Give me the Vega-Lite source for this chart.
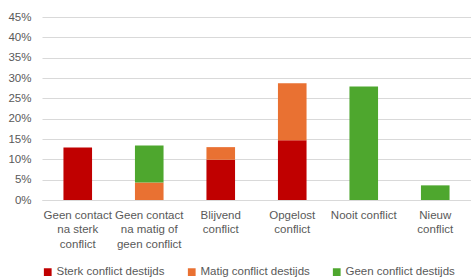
{
  "$schema": "https://vega.github.io/schema/vega-lite/v6.json",
  "width": 429,
  "height": 183,
  "autosize": {"type": "none"},
  "padding": {"left": 42, "top": 17, "right": 0, "bottom": 77},
  "background": "white",
  "config": {
    "view": {"stroke": null},
    "font": "Liberation Sans",
    "axis": {"labelColor": "#595959", "labelFontSize": 11.5, "labelFont": "Liberation Sans"},
    "legend": {"labelColor": "#595959", "labelFontSize": 11.5, "labelFont": "Liberation Sans"}
  },
  "data": {
    "values": [
      {"cat": "Geen contact|na sterk|conflict", "grp": "Sterk conflict destijds", "ord": 1, "v": 0.129},
      {"cat": "Geen contact|na matig of|geen conflict", "grp": "Matig conflict destijds", "ord": 2, "v": 0.043},
      {"cat": "Geen contact|na matig of|geen conflict", "grp": "Geen conflict destijds", "ord": 3, "v": 0.091},
      {"cat": "Blijvend|conflict", "grp": "Sterk conflict destijds", "ord": 1, "v": 0.099},
      {"cat": "Blijvend|conflict", "grp": "Matig conflict destijds", "ord": 2, "v": 0.031},
      {"cat": "Opgelost|conflict", "grp": "Sterk conflict destijds", "ord": 1, "v": 0.147},
      {"cat": "Opgelost|conflict", "grp": "Matig conflict destijds", "ord": 2, "v": 0.140},
      {"cat": "Nooit conflict", "grp": "Geen conflict destijds", "ord": 3, "v": 0.279},
      {"cat": "Nieuw|conflict", "grp": "Geen conflict destijds", "ord": 3, "v": 0.036}
    ]
  },
  "mark": {"type": "bar"},
  "encoding": {
    "x": {
      "field": "cat",
      "type": "nominal",
      "sort": ["Geen contact|na sterk|conflict", "Geen contact|na matig of|geen conflict", "Blijvend|conflict", "Opgelost|conflict", "Nooit conflict", "Nieuw|conflict"],
      "scale": {"paddingInner": 0.6, "paddingOuter": 0.3},
      "axis": {
        "title": null,
        "labelAngle": 0,
        "labelExpr": "split(datum.label, '|')",
        "labelLineHeight": 14.5,
        "labelPadding": 9,
        "ticks": false,
        "domainColor": "#d9d9d9",
        "labelLimit": 0,
        "labelOverlap": false
      }
    },
    "y": {
      "field": "v",
      "type": "quantitative",
      "stack": "zero",
      "scale": {"domain": [0, 0.45], "nice": false},
      "axis": {
        "title": null,
        "format": ".0%",
        "values": [0, 0.05, 0.1, 0.15, 0.2, 0.25, 0.3, 0.35, 0.4, 0.45],
        "grid": true,
        "gridColor": "#d9d9d9",
        "domain": false,
        "ticks": false,
        "labelPadding": 11,
        "labelOverlap": false,
        "labelBound": false
      }
    },
    "color": {
      "field": "grp",
      "type": "nominal",
      "scale": {
        "domain": ["Sterk conflict destijds", "Matig conflict destijds", "Geen conflict destijds"],
        "range": ["#C00000", "#E97132", "#4EA72E"]
      },
      "legend": {
        "title": null,
        "orient": "none",
        "direction": "horizontal",
        "legendX": 0,
        "legendY": 249,
        "symbolType": "square",
        "symbolSize": 60,
        "symbolStrokeWidth": 0,
        "labelOffset": 3,
        "columnPadding": 21
      }
    },
    "order": {"field": "ord", "type": "quantitative"}
  }
}
